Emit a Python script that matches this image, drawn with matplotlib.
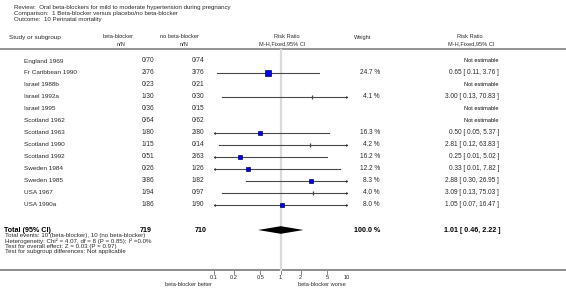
import numpy as np
import matplotlib
matplotlib.use("Agg")
import matplotlib.pyplot as plt

plt.rcParams['font.family'] = ['Liberation Sans', 'DejaVu Sans']

# ---------- DATA ----------
studies = ["England 1969", "Fr Caribbean 1990", "Israel 1988b", "Israel 1992a", "Israel 1995",
           "Scotland 1962", "Scotland 1963", "Scotland 1990", "Scotland 1992", "Sweden 1984",
           "Sweden 1985", "USA 1967", "USA 1990a"]
bb_nN = ["0/70", "2/76", "0/23", "1/30", "0/36", "0/64", "1/80", "1/15", "0/51", "0/26",
         "3/86", "1/94", "1/86"]
nobb_nN = ["0/74", "3/76", "0/21", "0/30", "0/15", "0/62", "2/80", "0/14", "2/63", "1/26",
           "1/82", "0/97", "1/90"]
rr = [None, 0.65, None, 3.00, None, None, 0.50, 2.81, 0.25, 0.33, 2.88, 3.09, 1.05]
lo = [None, 0.11, None, 0.13, None, None, 0.05, 0.12, 0.01, 0.01, 0.30, 0.13, 0.07]
hi = [None, 3.76, None, 70.83, None, None, 5.37, 63.83, 5.02, 7.82, 26.95, 75.03, 16.47]
weight = [None, 24.7, None, 4.1, None, None, 16.3, 4.2, 16.2, 12.2, 8.3, 4.0, 8.0]

total_bb, total_nobb = 719, 710
total_rr, total_lo, total_hi = 1.01, 0.46, 2.22
total_weight = 100.0

header_lines = ["Review:  Oral beta-blockers for mild to moderate hypertension during pregnancy",
                "Comparison:  1 Beta-blocker versus placebo/no beta-blocker",
                "Outcome:  10 Perinatal mortality"]
footnotes = ["Total events: 10 (beta-blocker), 10 (no beta-blocker)",
             "Heterogeneity: Chi\u00b2 = 4.07, df = 8 (P = 0.85); I\u00b2 =0.0%",
             "Test for overall effect: Z = 0.03 (P = 0.97)",
             "Test for subgroup differences: Not applicable"]
ticks = [0.1, 0.2, 0.5, 1, 2, 5, 10]
tick_labels = ["0.1", "0.2", "0.5", "1", "2", "5", "10"]

# ---------- LAYOUT ----------
W, H = 566, 289
FS = 4.6       # study names
FS_SMALL = 4.1 # headers, labels
FS_NUM = 4.7   # numbers in table
FS_BOLD = 5.1
TXT = '#2a2a2a'
row0, dy = 61, 12.0
y_total = 230
y_axis = 270

fig = plt.figure(figsize=(W / 100, H / 100), dpi=100)
ax = fig.add_axes([0, 0, 1, 1])
ax.set_xlim(0, W)
ax.set_ylim(H, 0)
ax.axis('off')

# forest panel: log scale 0.1 .. 10
fx0, fx1 = 214, 347
fax = fig.add_axes([fx0 / W, 0, (fx1 - fx0) / W, 1])
fax.set_xscale('log')
fax.set_xlim(0.1, 10)
fax.set_ylim(H, 0)
fax.axis('off')
fax.patch.set_alpha(0)

# header
for i, line in enumerate(header_lines):
    ax.text(14, 7 + i * 6.5, line, fontsize=4.4, color=TXT, va='center')

ax.text(9, 37, "Study or subgroup", fontsize=FS, color=TXT, va='center')
ax.text(118, 37, "beta-blocker", fontsize=FS_SMALL, color=TXT, va='center', ha='center')
ax.text(121, 44, "n/N", fontsize=FS_SMALL, color=TXT, va='center', ha='center')
ax.text(179, 37, "no beta-blocker", fontsize=FS_SMALL, color=TXT, va='center', ha='center')
ax.text(184, 44, "n/N", fontsize=FS_SMALL, color=TXT, va='center', ha='center')
ax.text(287, 37, "Risk Ratio", fontsize=FS_SMALL, color=TXT, va='center', ha='center')
ax.text(282, 44, "M-H,Fixed,95% CI", fontsize=FS_SMALL, color=TXT, va='center', ha='center')
ax.text(363, 37, "Weight", fontsize=FS_SMALL, color=TXT, va='center', ha='center')
ax.text(470, 37, "Risk Ratio", fontsize=FS_SMALL, color=TXT, va='center', ha='center')
ax.text(471, 44, "M-H,Fixed,95% CI", fontsize=FS_SMALL, color=TXT, va='center', ha='center')

ax.plot([0, W], [48.5, 48.5], color='#8c8c8c', lw=1.3, solid_capstyle='butt')
ax.plot([0, W], [y_axis, y_axis], color='#6e6e6e', lw=1.1, solid_capstyle='butt')

# line of no effect
fax.plot([1, 1], [49.5, y_axis - 0.5], color='#dadada', lw=1.6, zorder=1)

# study rows
for i, name in enumerate(studies):
    y = row0 + i * dy
    ax.text(24, y, name, fontsize=FS, color=TXT, va='center')
    ax.text(148, y, bb_nN[i], fontsize=FS_NUM, color=TXT, va='center', ha='center')
    ax.text(198, y, nobb_nN[i], fontsize=FS_NUM, color=TXT, va='center', ha='center')
    if rr[i] is None:
        ax.text(499, y, "Not estimable", fontsize=FS_SMALL, color='#111111', va='center', ha='right')
        continue
    ax.text(380, y, f"{weight[i]:.1f} %", fontsize=FS_NUM, color=TXT, va='center', ha='right')
    ax.text(499, y, f"{rr[i]:.2f} [ {lo[i]:.2f}, {hi[i]:.2f} ]", fontsize=FS_NUM,
            color=TXT, va='center', ha='right')

    a, b = max(lo[i], 0.1), min(hi[i], 10)
    fax.plot([a, b], [y, y], color='#4a4a4a', lw=0.8, zorder=2)
    if lo[i] < 0.1:
        fax.plot([0.1], [y], marker='<', ms=2.0, color='#333333', mew=0, zorder=3)
    if hi[i] > 10:
        fax.plot([10], [y], marker='>', ms=2.0, color='#333333', mew=0, zorder=3)
    if weight[i] < 5:
        fax.plot([rr[i]], [y], marker='|', ms=2.6, color='#444444', mew=0.9, zorder=4)
    else:
        fax.plot([rr[i]], [y], marker='s', ms=0.85 * np.sqrt(weight[i]),
                 mfc='#0000ee', mec='#000066', mew=0.5, zorder=4)

# total row
ax.text(4, y_total, "Total (95% CI)", fontsize=FS_BOLD, fontweight='bold', color='black', va='center')
ax.text(146, y_total, str(total_bb), fontsize=FS_BOLD, fontweight='bold', color='black',
        va='center', ha='center')
ax.text(201, y_total, str(total_nobb), fontsize=FS_BOLD, fontweight='bold', color='black',
        va='center', ha='center')
ax.text(380, y_total, f"{total_weight:.1f} %", fontsize=FS_BOLD, fontweight='bold', color='black',
        va='center', ha='right')
ax.text(500, y_total, f"{total_rr:.2f} [ {total_lo:.2f}, {total_hi:.2f} ]", fontsize=FS_BOLD,
        fontweight='bold', color='black', va='center', ha='right')
fax.fill([total_lo, total_rr, total_hi, total_rr],
         [y_total, y_total - 3.8, y_total, y_total + 3.8], color='black', lw=0, zorder=4)

for i, line in enumerate(footnotes):
    ax.text(5, 236 + i * 5.1, line, fontsize=4.4, color=TXT, va='center')

# x axis ticks
for t, lab in zip(ticks, tick_labels):
    fax.plot([t, t], [y_axis + 1, y_axis + 4], color='#555555', lw=0.5)
    fax.text(t, y_axis + 7.5, lab, fontsize=FS_SMALL, color=TXT, va='center', ha='center')

ax.text(212, 284, "beta-blocker better", fontsize=FS_SMALL, color=TXT, va='center', ha='right')
ax.text(298, 284, "beta-blocker worse", fontsize=FS_SMALL, color=TXT, va='center', ha='left')

fig.savefig("out.png", dpi=100)
